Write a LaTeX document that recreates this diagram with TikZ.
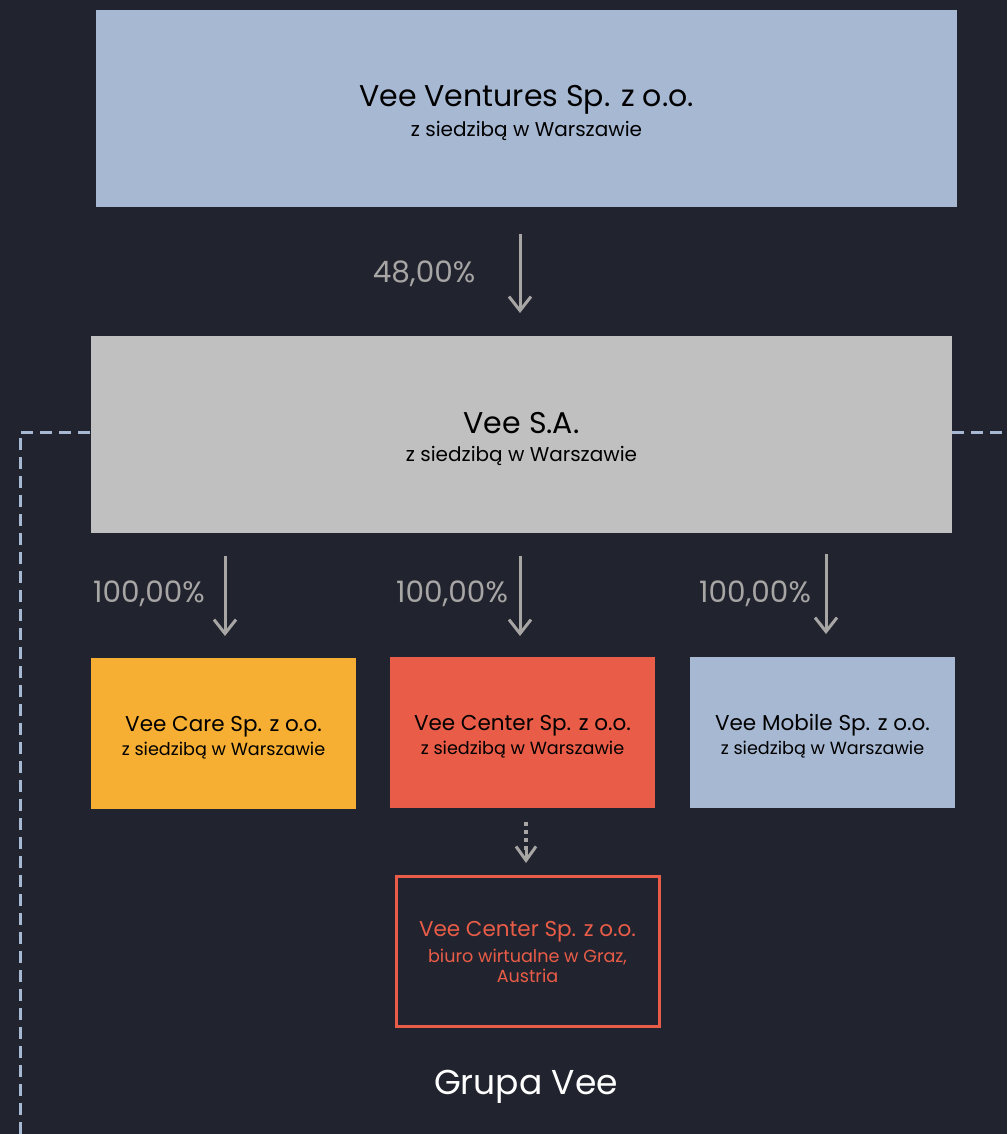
\documentclass[tikz,border=0pt]{standalone}
\usepackage{fontspec}
\setmainfont{Poppins}
\usetikzlibrary{arrows.meta}
\definecolor{bg}{HTML}{21242F}
\definecolor{bluebox}{HTML}{A7B8D3}
\definecolor{greybox}{HTML}{C0C0C0}
\definecolor{orangebox}{HTML}{F6AF33}
\definecolor{redbox}{HTML}{E95C47}
\definecolor{arrowgrey}{HTML}{A8A5A5}
\definecolor{dashblue}{HTML}{A7B8D3}
\tikzset{
  x=1pt, y=-1pt,
  bigbox/.style={draw=none, minimum width=861pt, minimum height=197pt, inner sep=0pt, align=center, text=black},
  smallbox/.style={draw=none, minimum width=265pt, minimum height=151pt, inner sep=0pt, align=center, text=black},
  txt/.style={anchor=base, inner sep=0pt},
  bigtitle/.style={txt, font=\fontsize{30}{36}\selectfont},
  bigsub/.style={txt, font=\fontsize{20}{24}\selectfont},
  smtitle/.style={txt, font=\fontsize{21.5}{26}\selectfont},
  smsub/.style={txt, font=\fontsize{17.6}{22}\selectfont},
  arr/.style={draw=arrowgrey, line width=3pt, -{Straight Barb[length=14pt,width=22pt,line width=3pt]}},
  pct/.style={txt, text=arrowgrey, font=\fontsize{29.5}{34}\selectfont},
  frame/.style={draw=dashblue, line width=3pt, dash pattern=on 12pt off 7pt},
}
\begin{document}
\begin{tikzpicture}
\fill[bg] (0,0) rectangle (1007,1134);
\useasboundingbox (0,0) rectangle (1007,1134);

% dashed group frame
\coordinate (fl) at (20,1134);
\coordinate (ftl) at (20,432);
\coordinate (ftr) at (1007,432);
\draw[frame] (fl) -- (ftl) -- (ftr);

% top box
\node[bigbox, fill=bluebox] (vv) at (526.5,108.5) {};
\node[bigtitle] (vvt) at (526.5,107) {Vee Ventures Sp. z o.o.};
\node[bigsub] (vvs) at (526.5,137) {z siedzibą w Warszawie};

% Vee S.A.
\node[bigbox, fill=greybox] (sa) at (521.5,434) {};
\node[bigtitle] (sat) at (521.5,433) {Vee S.A.};
\node[bigsub] (sas) at (521.5,461) {z siedzibą w Warszawie};

% arrow 48%
\coordinate (a1s) at (520,234);
\coordinate (a1e) at (520,313);
\draw[arr] (a1s) -- (a1e);
\node[pct] (p1) at (424,282) {48,00\%};

% subsidiaries
\node[smallbox, fill=orangebox] (care) at (223.5,733.5) {};
\node[smallbox, fill=redbox] (center) at (522.5,732.5) {};
\node[smallbox, fill=bluebox] (mobile) at (822.5,732.5) {};

\node[smtitle] (caret) at (223.5,731) {Vee Care Sp. z o.o.};
\node[smsub] (cares) at (223.5,755) {z siedzibą w Warszawie};
\node[smtitle] (centert) at (522.5,730) {Vee Center Sp. z o.o.};
\node[smsub] (centers) at (522.5,754) {z siedzibą w Warszawie};
\node[smtitle] (mobilet) at (822.5,730) {Vee Mobile Sp. z o.o.};
\node[smsub] (mobiles) at (822.5,754) {z siedzibą w Warszawie};

% arrows 100%
\coordinate (b1s) at (225,556); \coordinate (b1e) at (225,636);
\coordinate (b2s) at (520,556); \coordinate (b2e) at (520,636);
\coordinate (b3s) at (826,554); \coordinate (b3e) at (826,634);
\draw[arr] (b1s) -- (b1e);
\draw[arr] (b2s) -- (b2e);
\draw[arr] (b3s) -- (b3e);
\node[pct] (p2) at (149,602) {100,00\%};
\node[pct] (p3) at (452,602) {100,00\%};
\node[pct] (p4) at (755,602) {100,00\%};

% dotted arrow
\coordinate (ds) at (526,822);
\coordinate (de) at (526,863);
\draw[draw=arrowgrey, line width=4pt, dash pattern=on 4pt off 4pt] (ds) -- (526,854);
\draw[draw=arrowgrey, line width=3pt, -{Straight Barb[length=14pt,width=20pt,line width=3pt]}] (526,850) -- (de);

% Graz box
\node[draw=redbox, line width=3pt, minimum width=263pt, minimum height=150pt, inner sep=0pt] (graz) at (527.5,951) {};
\node[txt, text=redbox, font=\fontsize{21.5}{26}\selectfont] (grazt) at (527.5,936) {Vee Center Sp. z o.o.};
\node[txt, text=redbox, font=\fontsize{17.6}{22}\selectfont] (grazs) at (527.5,962) {biuro wirtualne w Graz,};
\node[txt, text=redbox, font=\fontsize{17.6}{22}\selectfont] (grazs2) at (527.5,982) {Austria};

% group label
\node[txt, text=white, font=\fontsize{34.5}{40}\selectfont] (grupa) at (526,1094) {Grupa Vee};
\end{tikzpicture}
\end{document}
